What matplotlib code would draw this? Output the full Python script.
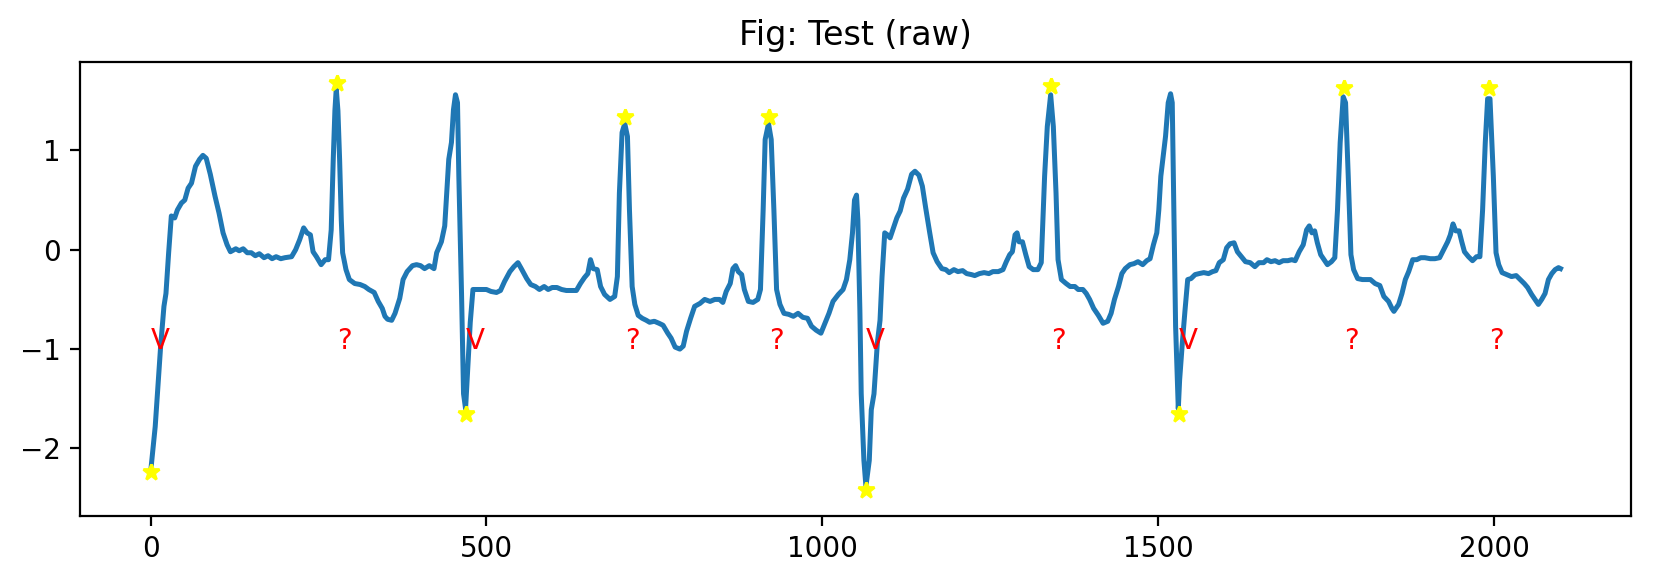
import matplotlib
matplotlib.use("Agg")
import matplotlib.pyplot as plt

# ECG trace (sample index, amplitude)
sig_x = [0, 7, 15, 20, 23, 27, 31, 36, 40, 46, 51, 56, 61, 67, 73, 78, 83, 89, 96, 102,
         108, 114, 119, 127, 132, 138, 144, 150, 156, 162, 169, 175, 181, 187, 194, 200,
         210, 216, 222, 228, 233, 238, 242, 247, 254, 260, 265, 269, 272, 274.5, 276.5,
         279, 281.5, 284, 286, 291, 296, 304, 312, 319, 325, 333, 339, 345, 349, 353,
         359, 364, 371, 376, 382, 390, 396, 402, 408, 415, 422, 426, 433, 438, 441, 444,
         448, 451, 454, 457, 459, 463, 466, 469, 473, 476, 480, 485, 492, 500, 507, 515,
         521, 527, 535, 541, 547, 552, 560, 566, 573, 579, 586, 592, 598, 605, 612, 619,
         627, 634, 640, 646, 651, 655, 659, 665, 670, 676, 684, 691, 695, 698, 702, 706,
         710, 713, 717, 721, 726, 732, 738, 743, 750, 757, 763, 770, 775, 781, 788, 793,
         798, 804, 810, 818, 825, 833, 840, 847, 852, 857, 863, 867, 871, 875, 880, 884,
         890, 897, 904, 908, 912, 915, 920, 924, 928, 932, 937, 943, 950, 957, 964, 971,
         978, 984, 991, 998, 1004, 1010, 1016, 1024, 1031, 1036, 1041, 1045, 1048, 1051,
         1053, 1056, 1058, 1062, 1065, 1070, 1073, 1077, 1082, 1086, 1089, 1093, 1097,
         1101, 1106, 1111, 1116, 1121, 1127, 1133, 1138, 1144, 1149, 1154, 1160, 1165,
         1171, 1178, 1184, 1189, 1196, 1202, 1209, 1215, 1222, 1227, 1234, 1241, 1248,
         1254, 1262, 1269, 1274, 1279, 1283, 1287, 1290, 1293, 1298, 1303, 1308, 1314,
         1321, 1326, 1331, 1335, 1340, 1344, 1348, 1351, 1356, 1363, 1369, 1376, 1381,
         1388, 1393, 1398, 1404, 1411, 1418, 1425, 1430, 1435, 1441, 1446, 1451, 1458,
         1464, 1470, 1477, 1483, 1488, 1493, 1498, 1501, 1504, 1508, 1511, 1515, 1518.5,
         1521, 1523, 1526, 1530, 1532, 1536, 1540, 1544, 1549, 1555, 1561, 1568, 1575,
         1581, 1586, 1591, 1597, 1602, 1607, 1613, 1618, 1624, 1630, 1637, 1644, 1650,
         1657, 1662, 1668, 1674, 1680, 1686, 1693, 1699, 1704, 1710, 1716, 1721, 1725,
         1729, 1733, 1737, 1742, 1747, 1752, 1758, 1763, 1767, 1771, 1775.5, 1779, 1783,
         1787, 1791, 1797, 1804, 1810, 1816, 1823, 1830, 1836, 1843, 1848, 1851, 1858,
         1863, 1868, 1873, 1879, 1885, 1891, 1897, 1905, 1912, 1919, 1925, 1931, 1935,
         1939, 1943, 1948, 1952, 1956, 1962, 1968, 1974, 1979, 1983, 1987, 1990.5, 1994,
         1999, 2003, 2007, 2012, 2019, 2026, 2033, 2039, 2045, 2050, 2056, 2061, 2066,
         2071, 2076, 2081, 2086, 2091, 2096, 2099]
sig_y = [-2.25, -1.78, -0.98, -0.57, -0.44, -0.03, 0.34, 0.32, 0.40, 0.47, 0.50, 0.62,
         0.67, 0.84, 0.91, 0.95, 0.92, 0.76, 0.54, 0.37, 0.17, 0.05, -0.02, 0.01, -0.01,
         0.01, -0.03, -0.03, -0.06, -0.04, -0.08, -0.06, -0.09, -0.07, -0.09, -0.08,
         -0.07, 0.00, 0.10, 0.22, 0.17, 0.15, -0.02, -0.07, -0.15, -0.10, -0.10, 0.20,
         0.90, 1.40, 1.62, 1.40, 0.91, 0.30, -0.03, -0.20, -0.30, -0.34, -0.35, -0.37,
         -0.40, -0.43, -0.52, -0.59, -0.67, -0.70, -0.71, -0.64, -0.49, -0.30, -0.22,
         -0.16, -0.15, -0.16, -0.19, -0.16, -0.19, -0.03, 0.08, 0.24, 0.57, 0.91, 1.08,
         1.41, 1.56, 1.48, 0.74, -0.44, -1.45, -1.60, -1.11, -0.73, -0.40, -0.40, -0.40,
         -0.40, -0.42, -0.43, -0.41, -0.32, -0.22, -0.17, -0.13, -0.19, -0.29, -0.35,
         -0.37, -0.40, -0.37, -0.40, -0.38, -0.38, -0.40, -0.41, -0.41, -0.41, -0.34,
         -0.28, -0.24, -0.10, -0.19, -0.20, -0.37, -0.45, -0.50, -0.47, -0.27, 0.57, 1.18,
         1.27, 1.14, 0.40, -0.37, -0.55, -0.66, -0.69, -0.71, -0.73, -0.72, -0.74, -0.76,
         -0.84, -0.89, -0.98, -1.00, -0.97, -0.82, -0.69, -0.57, -0.54, -0.50, -0.52,
         -0.50, -0.50, -0.53, -0.42, -0.34, -0.19, -0.16, -0.22, -0.25, -0.40, -0.52,
         -0.53, -0.50, -0.40, 0.40, 1.11, 1.27, 1.11, 0.40, -0.40, -0.55, -0.64, -0.65,
         -0.67, -0.64, -0.68, -0.69, -0.77, -0.81, -0.84, -0.74, -0.64, -0.52, -0.45,
         -0.40, -0.30, -0.10, 0.17, 0.50, 0.55, 0.30, -0.61, -1.45, -2.12, -2.38, -2.12,
         -1.61, -1.45, -0.94, -0.71, -0.27, 0.17, 0.15, 0.12, 0.22, 0.32, 0.39, 0.52,
         0.61, 0.76, 0.79, 0.75, 0.64, 0.42, 0.17, -0.03, -0.12, -0.19, -0.20, -0.23,
         -0.20, -0.22, -0.21, -0.24, -0.25, -0.26, -0.24, -0.23, -0.24, -0.22, -0.22,
         -0.20, -0.12, -0.05, -0.02, 0.15, 0.17, 0.08, 0.08, -0.05, -0.17, -0.20, -0.20,
         -0.13, 0.74, 1.24, 1.56, 1.24, 0.57, -0.10, -0.30, -0.34, -0.37, -0.37, -0.40,
         -0.40, -0.44, -0.50, -0.59, -0.66, -0.74, -0.72, -0.64, -0.50, -0.37, -0.24,
         -0.19, -0.15, -0.14, -0.12, -0.15, -0.11, -0.09, 0.05, 0.17, 0.40, 0.74, 0.97,
         1.14, 1.48, 1.57, 1.48, 0.57, -0.77, -1.60, -1.31, -0.94, -0.61, -0.30, -0.29,
         -0.25, -0.24, -0.23, -0.24, -0.22, -0.21, -0.13, -0.10, 0.02, 0.06, 0.07, -0.02,
         -0.07, -0.12, -0.13, -0.17, -0.13, -0.13, -0.10, -0.12, -0.11, -0.13, -0.11,
         -0.11, -0.10, -0.11, -0.02, 0.05, 0.20, 0.24, 0.17, 0.19, 0.07, -0.05, -0.10,
         -0.15, -0.12, -0.08, 0.40, 1.08, 1.54, 1.48, 0.74, -0.05, -0.20, -0.29, -0.30,
         -0.30, -0.30, -0.34, -0.36, -0.47, -0.52, -0.59, -0.62, -0.55, -0.44, -0.30,
         -0.22, -0.10, -0.10, -0.08, -0.08, -0.09, -0.09, -0.08, 0.00, 0.08, 0.15, 0.26,
         0.19, 0.19, 0.08, -0.02, -0.07, -0.11, -0.07, -0.07, 0.40, 1.08, 1.52, 1.52,
         0.74, -0.03, -0.15, -0.23, -0.25, -0.27, -0.26, -0.30, -0.34, -0.38, -0.45,
         -0.50, -0.55, -0.50, -0.44, -0.30, -0.24, -0.20, -0.18, -0.19]

# detected beats: position, amplitude at the marker, beat label
peak_x = [0, 277, 469, 706, 921, 1065, 1340, 1531, 1777, 1993]
peak_y = [-2.24, 1.68, -1.65, 1.34, 1.34, -2.42, 1.65, -1.65, 1.63, 1.63]
beat_labels = ["V", "?", "V", "?", "?", "V", "?", "V", "?", "?"]
label_y = -1.0

fig, ax = plt.subplots(figsize=(8.265, 2.915), dpi=200)
fig.subplots_adjust(left=0.0484, right=0.9867, top=0.8937, bottom=0.1149)

ax.plot(sig_x, sig_y, color="#1f77b4", linewidth=1.8)
ax.plot(peak_x, peak_y, "*", color="yellow", markersize=6)
for px, lab in zip(peak_x, beat_labels):
    ax.text(px, label_y, lab, color="red", fontsize=10)

ax.set_ylim(-2.68, 1.89)
ax.set_title("Fig: Test (raw)")

fig.savefig("out.png", dpi=200)
